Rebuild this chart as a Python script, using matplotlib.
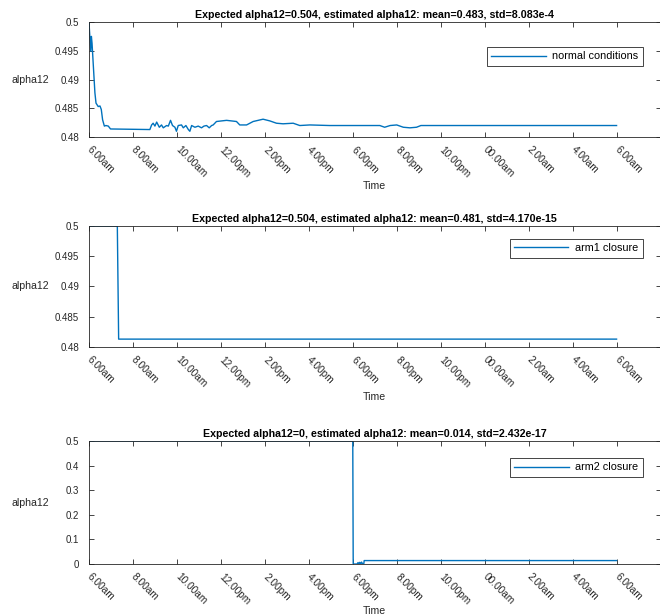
import matplotlib
matplotlib.use("Agg")
import matplotlib.pyplot as plt

plt.rcParams['font.family'] = ['Liberation Sans', 'DejaVu Sans']

# hours after 6.00am
tick_hours = [0, 2, 4, 6, 8, 10, 12, 14, 16, 18, 20, 22, 24]
tick_labels = ['6.00am', '8.00am', '10.00am', '12.00pm', '2.00pm', '4.00pm', '6.00pm',
               '8.00pm', '10.00pm', '00.00am', '2.00am', '4.00am', '6.00am']

"normal conditions"
t_normal = [0.0, 0.08, 0.11, 0.14, 0.20, 0.27, 0.32, 0.42, 0.50, 0.56, 0.62, 0.70, 0.77, 0.88,
            0.98, 2.77, 2.85, 2.92, 3.00, 3.08, 3.20, 3.30, 3.38, 3.53, 3.61, 3.71, 3.80, 3.91,
            3.98, 4.06, 4.21, 4.29, 4.41, 4.52, 4.59, 4.67, 4.82, 4.97, 5.12, 5.23, 5.35, 5.47,
            5.58, 5.65, 5.80, 6.26, 6.71, 6.86, 7.17, 7.47, 7.92, 8.23, 8.53, 8.83, 9.29, 9.59,
            10.05, 10.95, 13.23, 13.45, 13.7, 14.0, 14.3, 14.6, 14.9, 15.1, 15.27, 24.0]
v_normal = [0.5, 0.4949, 0.4975, 0.4963, 0.4923, 0.4877, 0.4859, 0.4853, 0.4854, 0.4848,
            0.4830, 0.4819, 0.4820, 0.4819, 0.4814, 0.4813, 0.4821, 0.4824, 0.4819, 0.4826,
            0.4817, 0.4821, 0.4816, 0.4820, 0.4819, 0.4829, 0.4820, 0.4817, 0.4810, 0.4820,
            0.4821, 0.4816, 0.4820, 0.4813, 0.4810, 0.4820, 0.4817, 0.4819, 0.4816, 0.4819,
            0.4820, 0.4816, 0.4820, 0.4821, 0.4827, 0.4829, 0.4827, 0.4821, 0.4821, 0.4827,
            0.4831, 0.4828, 0.4824, 0.4823, 0.4824, 0.4820, 0.4821, 0.4820, 0.4820, 0.4817,
            0.4820, 0.4821, 0.4817, 0.4816, 0.4817, 0.4820, 0.4820, 0.4820]

"arm1 closure"
t_arm1 = [0.0, 1.29, 1.35, 24.0]
v_arm1 = [0.5, 0.5, 0.4813, 0.4813]

"arm2 closure"
t_arm2 = [0.0, 12.0, 12.02, 12.2, 12.24, 12.28, 12.32, 12.36, 12.40, 12.45, 12.50, 12.52, 24.0]
v_arm2 = [0.5, 0.5, 0.0, 0.0, 0.006, 0.0, 0.007, 0.0, 0.008, 0.0, 0.0, 0.014, 0.014]

titles = ['Expected alpha12=0.504, estimated alpha12: mean=0.483, std=8.083e-4',
          'Expected alpha12=0.504, estimated alpha12: mean=0.481, std=4.170e-15',
          'Expected alpha12=0, estimated alpha12: mean=0.014, std=2.432e-17']
names = ['normal conditions', 'arm1 closure', 'arm2 closure']

fig = plt.figure(figsize=(6.6, 6.15), dpi=100)
axes = [fig.add_axes([0.1348, 0.7772, 0.866, 0.187]),
        fig.add_axes([0.1348, 0.4358, 0.866, 0.1967]),
        fig.add_axes([0.1348, 0.0829, 0.866, 0.200])]

series = [(t_normal, v_normal), (t_arm1, v_arm1), (t_arm2, v_arm2)]
leg_top = [0.783, 0.893, 0.862]
time_y = [-0.385, -0.37, -0.342]
grey = '#262626'

for i, ax in enumerate(axes):
    t, v = series[i]
    ax.plot(t, v, color='#0072BD', lw=1.0, label=names[i])
    ax.set_xlim(0, 26)
    ax.set_xticks(tick_hours)
    ax.set_xticklabels(tick_labels, rotation=-45, ha='left', va='center',
                       rotation_mode='anchor', fontsize=7.3, color=grey)
    if i < 2:
        ax.set_ylim(0.48, 0.5)
        ax.set_yticks([0.48, 0.485, 0.49, 0.495, 0.5])
        ax.set_yticklabels(['0.48', '0.485', '0.49', '0.495', '0.5'], fontsize=7.0, color=grey)
    else:
        ax.set_ylim(0, 0.5)
        ax.set_yticks([0, 0.1, 0.2, 0.3, 0.4, 0.5])
        ax.set_yticklabels(['0', '0.1', '0.2', '0.3', '0.4', '0.5'], fontsize=7.0, color=grey)
    ax.tick_params(direction='in', top=True, right=True, length=3.5, width=0.6, color=grey)
    ax.tick_params(axis='y', pad=7)
    ax.tick_params(axis='x', pad=8)
    for s in ax.spines.values():
        s.set_color(grey)
        s.set_linewidth(0.6)
    ax.set_title(titles[i], fontsize=7.7, fontweight='bold', pad=3)
    ax.set_ylabel('alpha12', rotation=0, fontsize=7.6, color=grey, ha='center', va='center')
    ax.yaxis.set_label_coords(-0.103, 0.5)
    ax.set_xlabel('Time', fontsize=7.6, color=grey)
    ax.xaxis.set_label_coords(0.5, time_y[i])
    leg = ax.legend(loc='upper right', bbox_to_anchor=(0.9685, leg_top[i]), borderaxespad=0,
                    fontsize=7.8, fancybox=False, framealpha=1, handlelength=5.0,
                    handletextpad=0.6, edgecolor=grey, borderpad=0.4)
    leg.get_frame().set_linewidth(0.6)

fig.savefig('out.png', dpi=100)
